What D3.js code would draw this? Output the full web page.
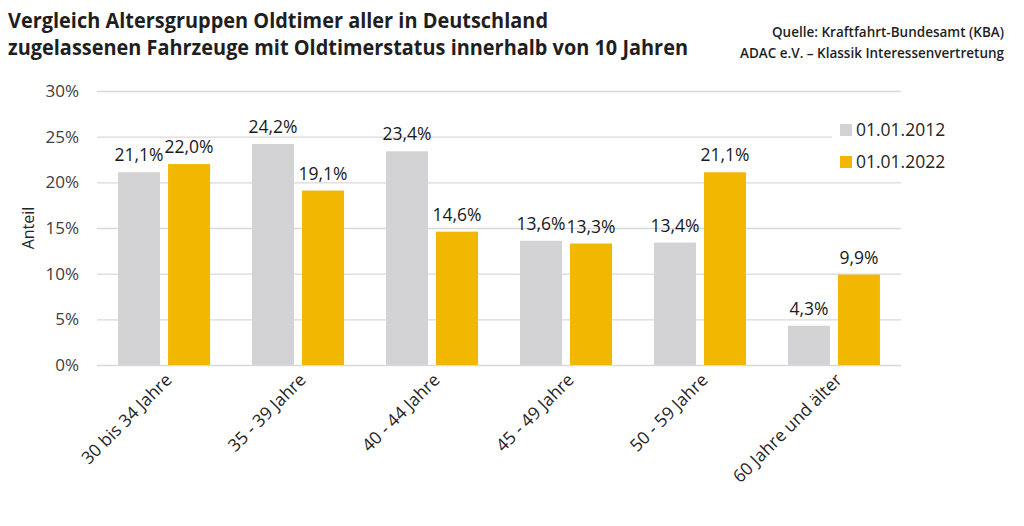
<!DOCTYPE html>
<html>
<head>
<meta charset="utf-8">
<script src="https://cdn.jsdelivr.net/npm/d3@7"></script>
<style>
  body { margin: 0; background: #fff; }
  svg { display: block; font-family: "Open Sans", sans-serif; }
</style>
</head>
<body>
<div id="root"></div>
<script>
const width = 1024,
      height = 526

const categories = ['30 bis 34 Jahre', '35 - 39 Jahre', '40 - 44 Jahre', '45 - 49 Jahre', '50 - 59 Jahre', '60 Jahre und älter']
const series = ['01.01.2012', '01.01.2022']
const values2012 = [21.1, 24.2, 23.4, 13.6, 13.4, 4.3]
const values2022 = [22.0, 19.1, 14.6, 13.3, 21.1, 9.9]
const yTicks = [0, 5, 10, 15, 20, 25, 30]
const colors = ['#d3d3d5', '#f2b700']

const data = categories.map((c, i) => ({
  category: c,
  values: [
    { key: series[0], value: values2012[i] },
    { key: series[1], value: values2022[i] }
  ]
}))

const de = d3.formatLocale({ decimal: ',', thousands: '.', grouping: [3], currency: ['', ' €'] })
const fmtVal = v => de.format('.1f')(v) + '%'

const margin = { top: 91, right: 123, bottom: 161, left: 97 }

const svg = d3.select('#root')
  .append('svg')
  .attr('width', width)
  .attr('height', height)

svg.append('rect').attr('width', width).attr('height', height).attr('fill', '#fff')

// titles
const title = svg.append('g').attr('font-weight', 700).attr('fill', '#1f1f1f').attr('font-size', 21)
title.append('text').attr('x', 8).attr('y', 28)
  .attr('textLength', 540).attr('lengthAdjust', 'spacingAndGlyphs')
  .text('Vergleich Altersgruppen Oldtimer aller in Deutschland')
title.append('text').attr('x', 8).attr('y', 55)
  .attr('textLength', 680).attr('lengthAdjust', 'spacingAndGlyphs')
  .text('zugelassenen Fahrzeuge mit Oldtimerstatus innerhalb von 10 Jahren')

const source = svg.append('g').attr('font-weight', 600).attr('fill', '#1f1f1f').attr('font-size', 14)
source.append('text').attr('x', 1004).attr('y', 37).attr('text-anchor', 'end')
  .attr('textLength', 232).attr('lengthAdjust', 'spacingAndGlyphs')
  .text('Quelle: Kraftfahrt-Bundesamt (KBA)')
source.append('text').attr('x', 1004).attr('y', 58).attr('text-anchor', 'end')
  .attr('textLength', 264).attr('lengthAdjust', 'spacingAndGlyphs')
  .text('ADAC e.V. – Klassik Interessenvertretung')

const x0 = d3.scaleBand()
  .domain(categories)
  .range([margin.left, width - margin.right])
  .paddingInner(0.313)
  .paddingOuter(0.157)

const x1 = d3.scaleBand()
  .domain(series)
  .range([0, x0.bandwidth()])
  .paddingInner(0.16)

const y = d3.scaleLinear()
  .domain([0, 30])
  .range([height - margin.bottom, margin.top])

const color = d3.scaleOrdinal().domain(series).range(colors)

// gridlines + y labels
const yAxis = svg.append('g')
  .attr('transform', `translate(${margin.left},0)`)
  .call(d3.axisLeft(y)
    .tickValues(yTicks)
    .tickSize(-(width - margin.left - margin.right))
    .tickPadding(18)
    .tickFormat(d => d + '%'))
yAxis.select('.domain').remove()
yAxis.selectAll('line').attr('stroke', '#d9d9d9').attr('stroke-width', 1.3)
yAxis.selectAll('text').attr('font-size', 17).attr('fill', '#404040').attr('font-family', '"Open Sans", sans-serif')

svg.append('text')
  .attr('transform', 'translate(34,228) rotate(-90)')
  .attr('text-anchor', 'middle')
  .attr('font-size', 16)
  .attr('fill', '#262626')
  .text('Anteil')

// bars
const groups = svg.append('g')
  .selectAll('g')
  .data(data)
  .join('g')
  .attr('transform', d => `translate(${x0(d.category)},0)`)

groups.selectAll('rect')
  .data(d => d.values)
  .join('rect')
  .attr('x', d => x1(d.key))
  .attr('y', d => y(d.value))
  .attr('width', x1.bandwidth())
  .attr('height', d => y(0) - y(d.value))
  .attr('fill', d => color(d.key))

groups.selectAll('text')
  .data(d => d.values)
  .join('text')
  .attr('x', d => x1(d.key) + x1.bandwidth() / 2)
  .attr('y', d => y(d.value) - 11)
  .attr('text-anchor', 'middle')
  .attr('font-size', 17.5)
  .attr('fill', '#1a1a1a')
  .text(d => fmtVal(d.value))

// category labels
svg.append('g')
  .selectAll('text')
  .data(categories)
  .join('text')
  .attr('transform', d => `translate(${x0(d) + x0.bandwidth() / 2 + 9},381) rotate(-45)`)
  .attr('text-anchor', 'end')
  .attr('font-size', 17.5)
  .attr('fill', '#262626')
  .text(d => d)

// legend
const legend = svg.append('g')
legend.append('rect').attr('x', 832).attr('y', 104).attr('width', 130).attr('height', 72).attr('fill', '#fff')
const li = legend.selectAll('g')
  .data(series)
  .join('g')
  .attr('transform', (d, i) => `translate(840,${124 + i * 32})`)
li.append('rect').attr('width', 12).attr('height', 12).attr('fill', d => color(d))
li.append('text').attr('x', 16).attr('y', 12).attr('font-size', 17.5).attr('fill', '#262626').text(d => d)
</script>
</body>
</html>
